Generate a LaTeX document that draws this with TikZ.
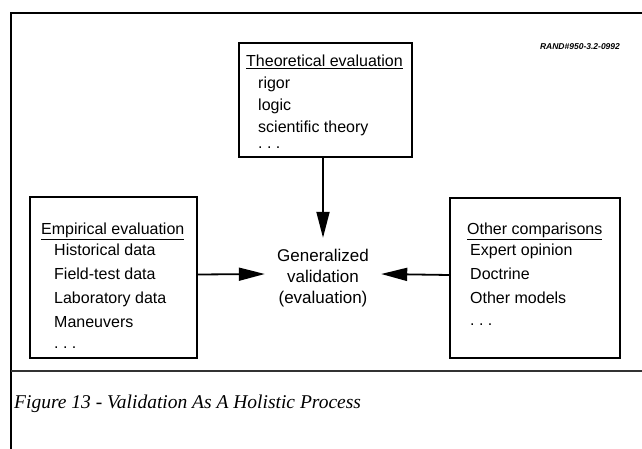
\documentclass[tikz,border=0pt]{standalone}
\usepackage{fontspec}
\setmainfont{Liberation Sans}
\newfontfamily\captionfont{Liberation Serif}
\usepackage{tikz}
\usetikzlibrary{arrows.meta}

\tikzset{
  box/.style={draw, line width=1.7pt, inner sep=0pt},
  line/.style={anchor=base west, inner sep=0pt, font=\fontsize{16}{19}\selectfont},
  arr/.style={-{Triangle[length=26pt,width=13pt]}, line width=1.8pt},
}

\begin{document}
\begin{tikzpicture}[x=1pt,y=-1pt]
  \useasboundingbox (0,0) rectangle (642,449);
  \draw[line width=2.3pt] (11,449) -- (11,13) -- (642,13);
  \draw[line width=1.4pt, black!80] (11,371) -- (642,371);

  \draw (580,47) node (rand) {\fontsize{8.5}{10}\selectfont\bfseries\itshape RAND\#950-3.2-0992};

  \draw (325.5,100) node[box, minimum width=173pt, minimum height=114pt] (theobox) {};
  \draw (246,67) node[line] (theotitle) {\underline{Theoretical evaluation}};
    \draw (258,89) node[line] (rigor) {rigor};
    \draw (258,111) node[line] (logic) {logic};
    \draw (258,133) node[line] (sci) {scientific theory};
    \draw (258,149) node[line] (theodots) {.\ .\ .};

  \draw (113.5,277.5) node[box, minimum width=167pt, minimum height=161pt] (empbox) {};
  \draw (41,234) node[line] (emptitle) {\underline{Empirical evaluation}};
    \draw (54,255) node[line] (hist) {Historical data};
    \draw (54,279) node[line] (field) {Field-test data};
    \draw (54,303) node[line] (lab) {Laboratory data};
    \draw (54,327) node[line] (man) {Maneuvers};
    \draw (54,348) node[line] (empdots) {.\ .\ .};

  \draw (535,278) node[box, minimum width=170pt, minimum height=160pt] (othbox) {};
  \draw (467,234) node[line] (othtitle) {\underline{Other comparisons}};
    \draw (470,255) node[line] (expert) {Expert opinion};
    \draw (470,279) node[line] (doct) {Doctrine};
    \draw (470,303) node[line] (models) {Other models};
    \draw (470,325) node[line] (othdots) {.\ .\ .};

  \draw (323,278) node[minimum width=116pt, minimum height=80pt, inner sep=0pt, align=center,
     font=\fontsize{17}{21}\selectfont] (gen) {Generalized\\validation\\(evaluation)};

  \draw[arr] (gen.north |- theobox.south) -- (gen.north);
  \draw[arr] ([yshift=3pt]empbox.east) -- ([yshift=4pt]gen.west);
  \draw[arr] ([yshift=3pt]othbox.west) -- ([yshift=4pt]gen.east);

  \draw (14,408) node[anchor=base west, inner sep=0pt] (caption)
     {\captionfont\itshape\fontsize{19.5}{23}\selectfont Figure 13 - Validation As A Holistic Process};
\end{tikzpicture}
\end{document}
